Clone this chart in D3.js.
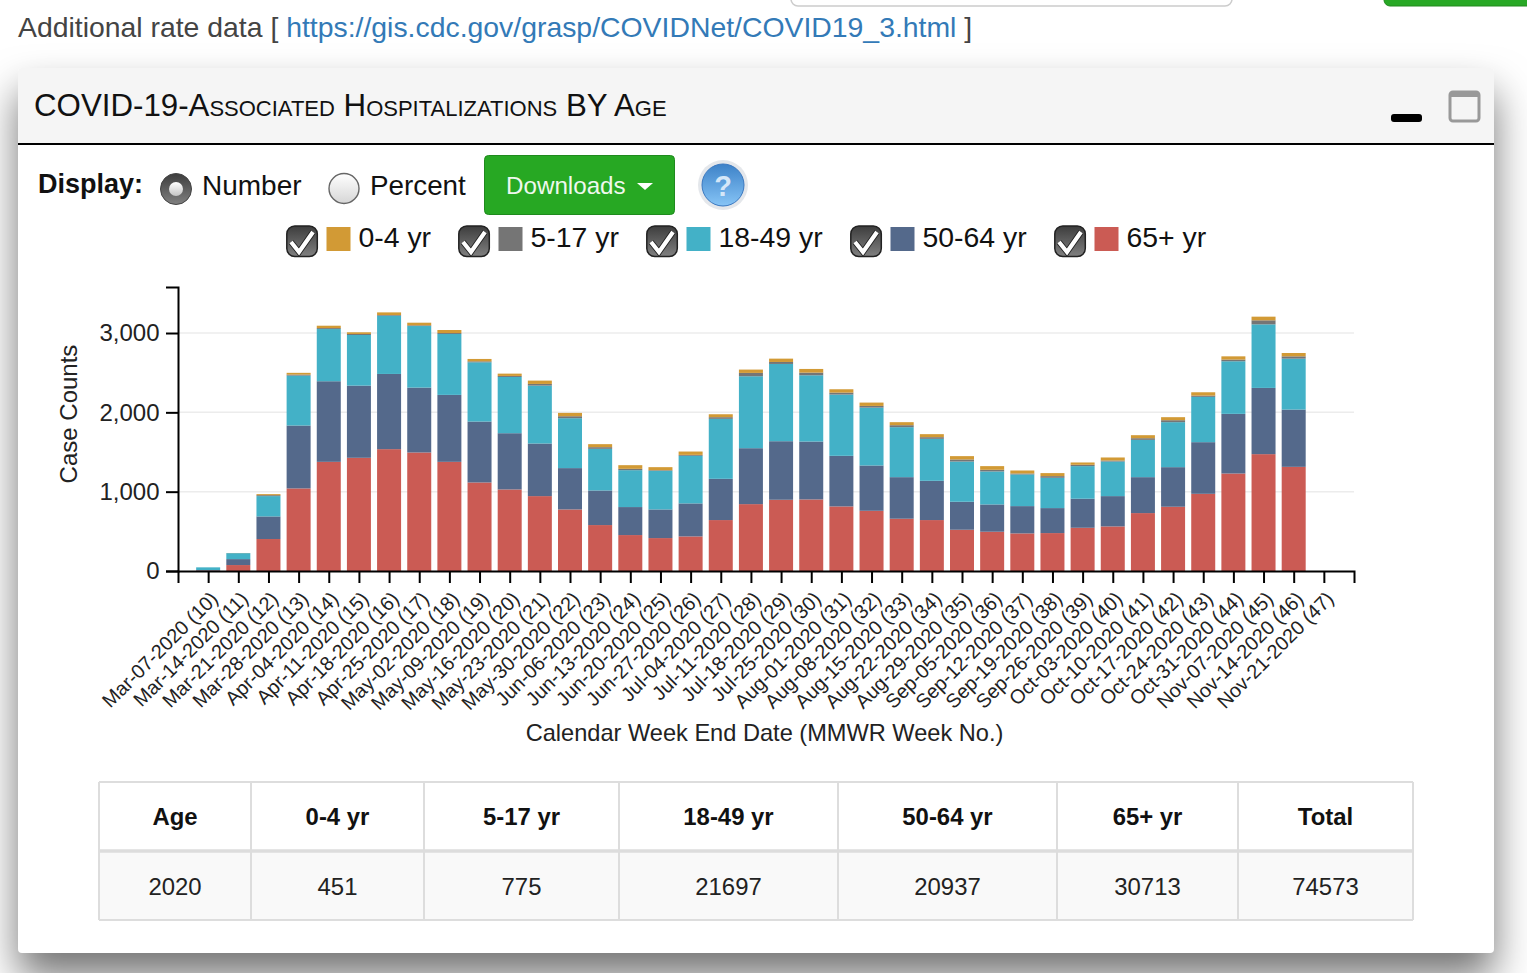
<!DOCTYPE html>
<html>
<head>
<meta charset="utf-8">
<script src="https://cdn.jsdelivr.net/npm/d3@7"></script>
<style>
html, body { margin: 0; padding: 0; background: #fff; overflow: hidden; }
body { width: 1527px; height: 973px; position: relative; font-family: "Liberation Sans", sans-serif; }
#card { position: absolute; left: 18px; top: 68px; width: 1476px; height: 885px; background: #fff;
        border-radius: 4px; box-shadow: 0 24px 40px rgba(0,0,0,0.55); }
#page { position: absolute; left: 0; top: 0; }
text { font-family: "Liberation Sans", sans-serif; }
</style>
</head>
<body>
<div id="card"></div>
<svg id="page" width="1527" height="973"></svg>
<script>
// values
var weeks = ["Mar-07-2020 (10)","Mar-14-2020 (11)","Mar-21-2020 (12)","Mar-28-2020 (13)","Apr-04-2020 (14)",
    "Apr-11-2020 (15)","Apr-18-2020 (16)","Apr-25-2020 (17)","May-02-2020 (18)","May-09-2020 (19)",
    "May-16-2020 (20)","May-23-2020 (21)","May-30-2020 (22)","Jun-06-2020 (23)","Jun-13-2020 (24)",
    "Jun-20-2020 (25)","Jun-27-2020 (26)","Jul-04-2020 (27)","Jul-11-2020 (28)","Jul-18-2020 (29)",
    "Jul-25-2020 (30)","Aug-01-2020 (31)","Aug-08-2020 (32)","Aug-15-2020 (33)","Aug-22-2020 (34)",
    "Aug-29-2020 (35)","Sep-05-2020 (36)","Sep-12-2020 (37)","Sep-19-2020 (38)","Sep-26-2020 (39)",
    "Oct-03-2020 (40)","Oct-10-2020 (41)","Oct-17-2020 (42)","Oct-24-2020 (43)","Oct-31-2020 (44)",
    "Nov-07-2020 (45)","Nov-14-2020 (46)","Nov-21-2020 (47)"];

var age65 = [6,75,403,1041,1376,1427,1536,1494,1376,1116,1028,944,776,579,453,415,436,642,843,898,902,814,759,659,642,520,495,474,478,545,562,730,810,973,1229,1473,1313,0];
var age50 = [6,75,285,793,1016,910,948,818,844,768,709,663,521,436,353,361,416,520,705,738,730,638,571,524,495,353,344,344,315,366,382,453,499,651,752,835,722,0];
var age18 = [34,75,256,629,658,638,734,776,768,747,709,730,629,525,465,487,600,756,907,974,835,772,730,630,529,507,416,399,382,411,436,470,567,571,663,801,642,0];
var age5 = [0,1,12,13,12,13,9,9,12,12,13,21,25,21,17,8,12,21,42,25,34,25,21,25,21,26,21,12,21,17,13,21,25,16,21,51,29,0];
var age0 = [0,1,13,22,30,21,33,33,38,30,29,42,42,38,46,38,42,37,42,42,46,42,42,38,38,42,46,38,38,29,38,38,38,42,41,46,42,0];

// stacking order is bottom to top
var stackKeys = ["65+ yr","50-64 yr","18-49 yr","5-17 yr","0-4 yr"];
var stackValues = [age65, age50, age18, age5, age0];
var colors = {"0-4 yr":"#d29a35","5-17 yr":"#757575","18-49 yr":"#43b1c7","50-64 yr":"#54698b","65+ yr":"#cb5b54"};

var legendKeys = ["0-4 yr","5-17 yr","18-49 yr","50-64 yr","65+ yr"];
var legendX = [286,458,646,850,1054];

var tableHead = ["Age","0-4 yr","5-17 yr","18-49 yr","50-64 yr","65+ yr","Total"];
var tableRow = ["2020","451","775","21697","20937","30713","74573"];
var tableEdges = [99,251,424,619,838,1057,1238,1413];

var svg = d3.select("#page");
var margin = {left: 178, right: 173, top: 287, bottom: 402};
var width = 1527, height = 973;

addGradients();
drawPageTop();
drawPanelHeader();
drawControls();
drawLegend();
drawChart();
drawTable();

function addGradient(id, from, to)
{
    var g = svg.append("defs").append("linearGradient")
        .attr("id", id).attr("x1", 0).attr("y1", 0).attr("x2", 0).attr("y2", 1);
    g.append("stop").attr("offset", "0%").attr("stop-color", from);
    g.append("stop").attr("offset", "100%").attr("stop-color", to);
}

function addGradients()
{
    addGradient("darkKnob", "#3d3d3d", "#808080");
    addGradient("lightKnob", "#ffffff", "#d6d6d6");
    addGradient("dotKnob", "#ffffff", "#c4c4c4");
    addGradient("helpKnob", "#3d82c8", "#86c4f6");
}

function drawPageTop()
{
    // cut off input box and button at the very top
    svg.append("rect").attr("x", 791).attr("y", -20).attr("width", 441).attr("height", 26).attr("rx", 7)
        .attr("fill", "#fff").attr("stroke", "#ccc").attr("stroke-width", 1.5);
    svg.append("rect").attr("x", 1384).attr("y", -20).attr("width", 160).attr("height", 26).attr("rx", 6)
        .attr("fill", "#28a825").attr("stroke", "#22891f");

    var t = svg.append("text").attr("x", 18).attr("y", 37).attr("font-size", 28.38).attr("fill", "#444");
    t.append("tspan").text("Additional rate data [ ");
    t.append("tspan").attr("fill", "#337ab7").text("https://gis.cdc.gov/grasp/COVIDNet/COVID19_3.html");
    t.append("tspan").text(" ]");
}

function drawPanelHeader()
{
    svg.append("path").attr("d", "M18,143V72a4,4 0 0 1 4,-4H1490a4,4 0 0 1 4,4V143Z").attr("fill", "#f5f5f5");
    svg.append("rect").attr("x", 18).attr("y", 143).attr("width", 1476).attr("height", 2).attr("fill", "#000");

    svg.append("text").attr("x", 34).attr("y", 116).attr("font-size", 31.25).attr("fill", "#111")
        .style("font-variant", "small-caps")
        .text("COVID-19-Associated Hospitalizations BY Age");

    svg.append("rect").attr("x", 1391).attr("y", 114).attr("width", 31).attr("height", 8).attr("rx", 3).attr("fill", "#000");
    svg.append("rect").attr("x", 1450).attr("y", 92).attr("width", 29).attr("height", 29).attr("rx", 3)
        .attr("fill", "#f5f5f5").attr("stroke", "#999").attr("stroke-width", 3);
    svg.append("rect").attr("x", 1450).attr("y", 92).attr("width", 29).attr("height", 5).attr("fill", "#999");
}

function drawControls()
{
    svg.append("text").attr("x", 38).attr("y", 193).attr("font-size", 27).attr("font-weight", "bold").attr("fill", "#111").text("Display:");

    // radios
    svg.append("circle").attr("cx", 176).attr("cy", 189).attr("r", 15.5).attr("fill", "url(#darkKnob)").attr("stroke", "#444");
    svg.append("circle").attr("cx", 176).attr("cy", 189).attr("r", 7).attr("fill", "url(#dotKnob)");
    svg.append("text").attr("x", 202).attr("y", 195).attr("font-size", 28).attr("fill", "#111").text("Number");
    svg.append("circle").attr("cx", 344).attr("cy", 188.5).attr("r", 15).attr("fill", "url(#lightKnob)").attr("stroke", "#666").attr("stroke-width", 1.4);
    svg.append("text").attr("x", 370).attr("y", 195).attr("font-size", 27.8).attr("fill", "#111").text("Percent");

    // downloads button
    svg.append("rect").attr("x", 484.5).attr("y", 155.5).attr("width", 190).attr("height", 59).attr("rx", 4)
        .attr("fill", "#27a823").attr("stroke", "#1f8a1d");
    svg.append("text").attr("x", 506).attr("y", 194).attr("font-size", 24.2).attr("fill", "#eef8ee").text("Downloads");
    svg.append("path").attr("d", "M637,183h16l-8,7Z").attr("fill", "#fff");

    // help icon
    svg.append("circle").attr("cx", 723).attr("cy", 185).attr("r", 25).attr("fill", "#e4e7eb");
    svg.append("circle").attr("cx", 723).attr("cy", 185).attr("r", 21).attr("fill", "url(#helpKnob)").attr("stroke", "#3a78c0");
    svg.append("text").attr("x", 723).attr("y", 196).attr("text-anchor", "middle").attr("font-size", 29)
        .attr("font-weight", "bold").attr("fill", "#d5e7f8").text("?");
}

function drawLegend()
{
    var items = svg.append("g").selectAll("g")
        .data(legendKeys)
        .enter()
        .append("g")
        .attr("transform", function(d, i){ return "translate(" + legendX[i] + ",0)"; });

    items.append("rect").attr("x", 0.8).attr("y", 226).attr("width", 30.5).attr("height", 30.5).attr("rx", 8)
        .attr("fill", "url(#darkKnob)").attr("stroke", "#222").attr("stroke-width", 1.5);
    items.append("path").attr("d", "M5,242l8,10l14,-20").attr("fill", "none").attr("stroke", "#222").attr("stroke-width", 6);
    items.append("path").attr("d", "M5,242l8,10l14,-20").attr("fill", "none").attr("stroke", "#fff").attr("stroke-width", 4.2);
    items.append("rect").attr("x", 40.5).attr("y", 227).attr("width", 24).attr("height", 24)
        .attr("fill", function(d){ return colors[d]; });
    items.append("text").attr("x", 72.5).attr("y", 247).attr("font-size", 28.4).attr("fill", "#111")
        .text(function(d){ return d; });
}

function drawChart()
{
    var xScale = d3.scalePoint()
        .domain(weeks)
        .range([margin.left, width - margin.right])
        .padding(1);

    var yScale = d3.scaleLinear()
        .domain([0, 3580])
        .range([height - margin.bottom, margin.top]);

    var table = weeks.map(function(w, i){
        var row = {week: w};
        stackKeys.forEach(function(k, j){ row[k] = stackValues[j][i]; });
        return row;
    });
    var series = d3.stack().keys(stackKeys)(table);
    var barWidth = 24;

    // gridlines
    svg.append("g").selectAll("line")
        .data([1000, 2000, 3000])
        .enter()
        .append("line")
        .attr("x1", margin.left)
        .attr("x2", width - margin.right)
        .attr("y1", function(d){ return yScale(d); })
        .attr("y2", function(d){ return yScale(d); })
        .attr("stroke", "#ececec")
        .attr("stroke-width", 1.5);

    svg.append("g").selectAll("g")
        .data(series)
        .enter()
        .append("g")
        .attr("fill", function(s){ return colors[s.key]; })
        .selectAll("rect")
        .data(function(s){ return s; })
        .enter()
        .append("rect")
        .attr("x", function(d){ return xScale(d.data.week) - barWidth / 2; })
        .attr("width", barWidth)
        .attr("y", function(d){ return yScale(d[1]); })
        .attr("height", function(d){ return yScale(d[0]) - yScale(d[1]); });

    var xAxis = svg.append("g")
        .attr("transform", "translate(0," + (height - margin.bottom) + ")")
        .call(d3.axisBottom(xScale).tickSize(12));
    xAxis.selectAll("text")
        .attr("font-size", 19.8)
        .attr("fill", "#222")
        .attr("text-anchor", "end")
        .attr("dx", 0)
        .attr("dy", 0)
        .attr("y", 0)
        .attr("transform", "translate(10.5,29) rotate(-45)");

    var yAxis = svg.append("g")
        .attr("transform", "translate(" + margin.left + ",0)")
        .call(d3.axisLeft(yScale).tickValues([0, 1000, 2000, 3000]).tickSize(12).tickFormat(d3.format(",")));
    yAxis.selectAll("text")
        .attr("font-size", 24)
        .attr("fill", "#222")
        .attr("x", -18.5);

    [xAxis, yAxis].forEach(function(a){
        a.selectAll("line").attr("stroke", "#000").attr("stroke-width", 2);
        a.select(".domain").attr("stroke", "#000").attr("stroke-width", 2);
    });

    svg.append("text")
        .attr("transform", "translate(77,414) rotate(-90)")
        .attr("text-anchor", "middle")
        .attr("font-size", 24)
        .attr("fill", "#222")
        .text("Case Counts");

    svg.append("text")
        .attr("x", 764.5)
        .attr("y", 741)
        .attr("text-anchor", "middle")
        .attr("font-size", 23.6)
        .attr("fill", "#222")
        .text("Calendar Week End Date (MMWR Week No.)");
}

function drawTable()
{
    var top = 782, mid = 851, bottom = 920;
    var left = tableEdges[0], right = tableEdges[tableEdges.length - 1];

    svg.append("rect").attr("x", left).attr("y", mid).attr("width", right - left).attr("height", bottom - mid).attr("fill", "#f9f9f9");
    svg.append("g").selectAll("line")
        .data([top, mid, bottom])
        .enter()
        .append("line")
        .attr("x1", left).attr("x2", right)
        .attr("y1", function(d){ return d; }).attr("y2", function(d){ return d; })
        .attr("stroke", "#ddd")
        .attr("stroke-width", function(d){ return d == mid ? 3.5 : 2; });
    svg.append("g").selectAll("line")
        .data(tableEdges)
        .enter()
        .append("line")
        .attr("x1", function(d){ return d; }).attr("x2", function(d){ return d; })
        .attr("y1", top).attr("y2", bottom)
        .attr("stroke", "#ddd")
        .attr("stroke-width", 2);

    var cx = function(d, i){ return (tableEdges[i] + tableEdges[i + 1]) / 2; };
    svg.append("g").selectAll("text")
        .data(tableHead)
        .enter()
        .append("text")
        .attr("x", cx)
        .attr("y", 825)
        .attr("text-anchor", "middle")
        .attr("font-size", 23.9)
        .attr("font-weight", "bold")
        .attr("fill", "#111")
        .text(function(d){ return d; });
    svg.append("g").selectAll("text")
        .data(tableRow)
        .enter()
        .append("text")
        .attr("x", cx)
        .attr("y", 895)
        .attr("text-anchor", "middle")
        .attr("font-size", 23.9)
        .attr("fill", "#222")
        .text(function(d){ return d; });
}
</script>
</body>
</html>
